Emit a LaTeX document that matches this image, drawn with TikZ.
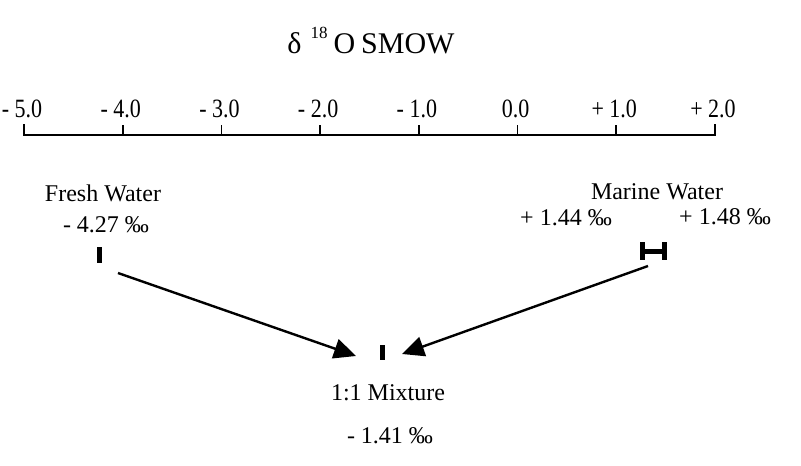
\documentclass[tikz,border=0pt]{standalone}
\usepackage{fontspec}
\setmainfont{Liberation Serif}
\usetikzlibrary{arrows.meta}
\begin{document}
\begin{tikzpicture}[x=1pt,y=-1pt,
  lbl/.style={font=\fontsize{24}{26}\selectfont, inner sep=0pt, anchor=base},
  axlbl/.style={font=\fontsize{22}{24}\selectfont, inner sep=0pt, anchor=base, yscale=1.2},
  tickmark/.style={line width=1.6pt},
  bar/.style={fill=black, draw=none, minimum width=5pt, minimum height=16pt, inner sep=0pt},
  conn/.style={line width=2.4pt, -{Triangle[length=22pt,width=20pt]}}]
\useasboundingbox (0,0) rectangle (801,466);
% title
\node[font=\fontsize{30}{32}\selectfont, inner sep=0pt, anchor=base] (title) at (371,53)
  {δ\hspace{9pt}\raisebox{15pt}{\fontsize{17}{18}\selectfont 18}\hspace{6pt}O\hspace{6pt}SMOW};
% axis
\draw[line width=1.5pt] (24,124) -- (24,135) -- (715,135) -- (715,124);
\foreach \i/\t in {0/{- 5.0},1/{- 4.0},2/{- 3.0},3/{- 2.0},4/{- 1.0},5/{0.0},6/{+ 1.0},7/{+ 2.0}}{
  \pgfmathsetmacro\xx{24+98.71*\i}
  \draw[tickmark] (\xx,135) -- (\xx,125);
  \node[axlbl] (lab\i) at (\xx-2,117) {\t};
}
% fresh water
\node[lbl] (fw) at (103,201) {Fresh Water};
\node[lbl] (fwv) at (106,232) {- 4.27 ‰};
\node[bar] (fbar) at (99.5,255) {};
% marine water
\node[lbl] (mw) at (657,199) {Marine Water};
\node[lbl] (mw1) at (566,225) {+ 1.44 ‰};
\node[lbl] (mw2) at (725,224) {+ 1.48 ‰};
\node[minimum width=27pt, minimum height=18pt, inner sep=0pt] (hbar) at (653.5,251) {};
\fill (hbar.north west) rectangle ++(5.5,18);
\fill (hbar.north east) rectangle ++(-5.5,18);
\fill ([yshift=-2.5pt]hbar.west) rectangle ([yshift=2.5pt]hbar.east);
% mixture
\node[bar, minimum height=15pt] (mbar) at (382.5,352.5) {};
\node[lbl] (mix) at (388,400) {1:1 Mixture};
\node[lbl] (mixv) at (390,443) {- 1.41 ‰};
\coordinate (fstart) at (118,273);
\coordinate (mstart) at (648,266);
\coordinate (lend) at (356,356);
\coordinate (rend) at (402,354);
\draw[conn] (fstart) -- (lend);
\draw[conn] (mstart) -- (rend);
\end{tikzpicture}
\end{document}
